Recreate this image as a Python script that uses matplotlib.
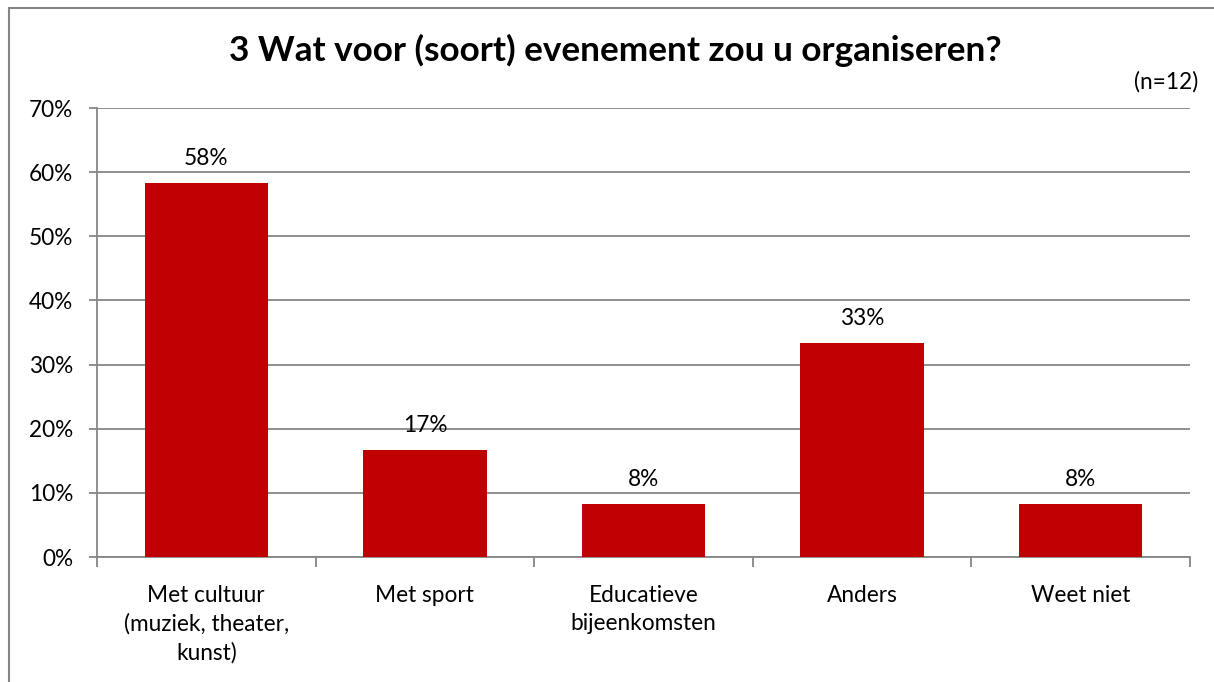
import matplotlib
matplotlib.use("Agg")
import numpy as np
from matplotlib import pyplot as plt
from matplotlib.patches import Rectangle

# data (n=12)
categories = ["Met cultuur\n(muziek, theater,\nkunst)", "Met sport",
              "Educatieve\nbijeenkomsten", "Anders", "Weet niet"]
values = [58.33, 16.67, 8.33, 33.33, 8.33]
value_labels = ["58%", "17%", "8%", "33%", "8%"]
yticks = [0, 10, 20, 30, 40, 50, 60, 70]

plt.rcParams["font.family"] = ["Lato", "DejaVu Sans"]
grey = "#868686"
fs = 16.3

fig = plt.figure(figsize=(12.14, 6.82), dpi=100)
ax = fig.add_axes([97 / 1214, 1 - 557 / 682, (1190 - 97) / 1214, (557 - 108) / 682])

x = np.arange(len(categories))
ax.bar(x, values, width=0.565, color="#C00000", zorder=3)
for xi, v, lab in zip(x, values, value_labels):
    ax.annotate(lab, (xi, v), xytext=(0, 10), textcoords="offset points",
                ha="center", va="bottom", fontsize=fs)

ax.set_xlim(-0.5, len(categories) - 0.5)
ax.set_ylim(0, 70)
ax.set_yticks(yticks)
ax.set_yticklabels([f"{t}%" for t in yticks], fontsize=fs)
ax.yaxis.grid(True, color=grey, linewidth=1.3, zorder=0)
ax.tick_params(axis="y", length=6, width=1.3, color=grey, pad=11)

ax.set_xticks(x)
ax.set_xticklabels(categories, fontsize=fs, linespacing=1.42, va="top")
ax.tick_params(axis="x", which="major", length=0, pad=20)
ax.set_xticks(np.arange(-0.5, len(categories)), minor=True)
ax.tick_params(axis="x", which="minor", length=7, width=1.3, color=grey)

for side in ["top", "right"]:
    ax.spines[side].set_visible(False)
for side in ["left", "bottom"]:
    ax.spines[side].set_color(grey)
    ax.spines[side].set_linewidth(1.3)

fig.text(615 / 1214, 1 - 50 / 682, "3 Wat voor (soort) evenement zou u organiseren?",
         ha="center", va="center", fontsize=25.3, fontweight="bold")
fig.text(1198 / 1214, 1 - 82 / 682, "(n=12)", ha="right", va="center", fontsize=fs)

# chart border (only left and top edges fall inside the image)
fig.patches.append(Rectangle((9 / 1214, -0.1), 1.2, 1 - 8 / 682 + 0.1,
                             transform=fig.transFigure, fill=False,
                             edgecolor=grey, linewidth=1.5))

fig.savefig("out.png", dpi=100)
